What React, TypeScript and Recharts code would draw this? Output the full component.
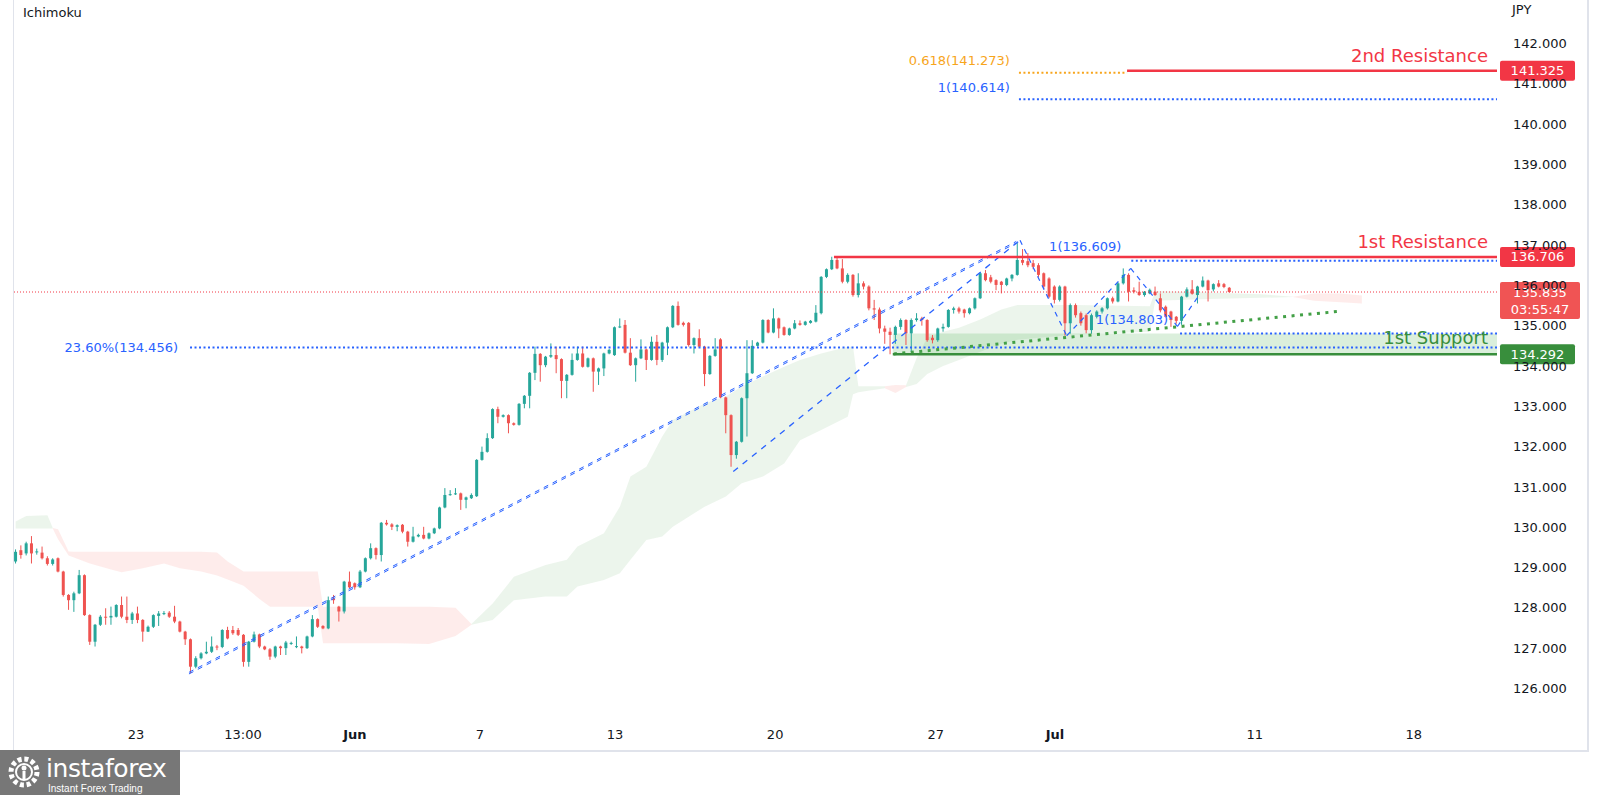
import React from "react";
import { ComposedChart, Bar, Area, XAxis, YAxis, ReferenceLine, ReferenceArea } from "recharts";

const UP = "#26a69a";
const DOWN = "#ef5350";
const RED = "#f23645";
const BLUE = "#2962ff";
const GREEN = "#388e3c";
const ORANGE = "#f7a51c";
const FONT = "'DejaVu Sans', sans-serif";

const SLOTS = 280; // candle slots incl. empty space on the right

// open, high, low, close
const ohlc: number[][] = [
  [129.15, 129.45, 129.10, 129.39], [129.43, 129.55, 129.22, 129.31], [129.35, 129.64, 129.30, 129.60], [129.60, 129.78, 129.10, 129.35],
  [129.38, 129.47, 129.32, 129.40], [129.37, 129.52, 129.20, 129.23], [129.23, 129.28, 129.05, 129.09], [129.09, 129.23, 129.05, 129.20],
  [129.23, 129.25, 128.88, 128.90], [128.90, 128.92, 128.28, 128.32], [128.32, 128.34, 127.95, 128.19], [128.19, 128.40, 127.90, 128.36],
  [128.36, 128.94, 128.34, 128.81], [128.81, 128.83, 127.80, 127.82], [127.82, 127.84, 127.08, 127.16], [127.16, 127.60, 127.04, 127.58],
  [127.58, 127.82, 127.55, 127.78], [127.78, 127.99, 127.58, 127.76], [127.76, 128.03, 127.58, 127.80], [127.78, 128.09, 127.76, 128.07],
  [128.07, 128.28, 127.74, 127.78], [127.78, 128.28, 127.62, 127.70], [127.70, 127.90, 127.60, 127.86], [127.86, 128.03, 127.62, 127.70],
  [127.70, 127.72, 127.16, 127.41], [127.41, 127.56, 127.40, 127.53], [127.53, 127.84, 127.50, 127.82], [127.80, 127.92, 127.55, 127.86],
  [127.86, 127.92, 127.82, 127.87], [127.88, 127.92, 127.75, 127.78], [127.78, 128.05, 127.62, 127.66], [127.66, 127.68, 127.39, 127.41],
  [127.41, 127.43, 127.08, 127.22], [127.22, 127.24, 126.38, 126.54], [126.54, 126.80, 126.50, 126.75], [126.75, 126.90, 126.72, 126.87],
  [126.87, 127.16, 126.85, 126.91], [126.91, 127.29, 126.88, 127.04], [127.04, 127.08, 126.95, 127.03], [127.03, 127.47, 127.00, 127.45],
  [127.45, 127.53, 127.22, 127.24], [127.45, 127.55, 127.33, 127.37], [127.45, 127.50, 127.30, 127.33], [127.33, 127.35, 126.54, 126.66],
  [126.66, 127.18, 126.54, 127.16], [127.16, 127.41, 127.14, 127.34], [127.34, 127.36, 127.00, 127.04], [127.04, 127.06, 126.95, 126.97],
  [126.97, 127.00, 126.71, 126.79], [126.79, 127.06, 126.75, 127.04], [127.04, 127.06, 126.83, 127.00], [127.00, 127.18, 126.83, 127.14],
  [127.12, 127.16, 127.08, 127.13], [127.03, 127.29, 127.00, 127.05], [127.04, 127.06, 126.87, 127.00], [127.00, 127.31, 126.98, 127.29],
  [127.29, 127.82, 127.27, 127.72], [127.72, 127.74, 127.50, 127.53], [127.55, 127.57, 127.47, 127.49], [127.49, 128.28, 127.47, 128.19],
  [128.23, 128.32, 128.10, 128.19], [128.03, 128.05, 127.66, 127.91], [127.91, 128.67, 127.86, 128.65], [128.65, 128.90, 128.49, 128.51],
  [128.61, 128.63, 128.45, 128.51], [128.51, 128.94, 128.49, 128.90], [128.90, 129.25, 128.88, 129.23], [129.23, 129.60, 129.20, 129.48],
  [129.48, 129.50, 129.20, 129.31], [129.31, 130.13, 129.15, 130.11], [130.11, 130.18, 130.04, 130.07], [130.07, 130.10, 129.93, 130.01],
  [130.01, 130.07, 129.90, 130.05], [130.06, 130.08, 129.85, 129.89], [129.89, 129.91, 129.52, 129.64], [129.64, 130.01, 129.62, 129.77],
  [129.77, 129.84, 129.75, 129.81], [129.81, 130.01, 129.70, 129.72], [129.72, 129.87, 129.70, 129.85], [129.85, 129.99, 129.83, 129.97],
  [129.97, 130.51, 129.95, 130.49], [130.49, 130.97, 130.47, 130.80], [130.80, 130.92, 130.78, 130.82], [130.82, 130.97, 130.80, 130.84],
  [130.84, 130.86, 130.43, 130.68], [130.68, 130.76, 130.47, 130.74], [130.72, 130.84, 130.70, 130.80], [130.77, 131.69, 130.75, 131.67],
  [131.67, 132.00, 131.65, 131.87], [131.87, 132.33, 131.85, 132.21], [132.21, 132.95, 132.19, 132.93], [132.93, 132.99, 132.58, 132.74],
  [132.74, 132.80, 132.72, 132.78], [132.78, 132.80, 132.33, 132.58], [132.58, 132.60, 132.52, 132.54], [132.54, 133.08, 132.52, 133.06],
  [133.06, 133.28, 132.95, 133.26], [133.26, 133.85, 132.95, 133.83], [133.83, 134.48, 133.65, 134.30], [134.30, 134.32, 133.61, 134.02],
  [134.02, 134.25, 133.97, 134.23], [134.23, 134.56, 134.20, 134.27], [134.27, 134.48, 133.82, 134.17], [134.17, 134.19, 133.20, 133.63],
  [133.63, 133.80, 133.20, 133.78], [133.78, 134.31, 133.76, 134.15], [134.15, 134.48, 134.13, 134.31], [134.31, 134.48, 133.96, 133.98],
  [133.98, 134.21, 133.96, 134.19], [134.19, 134.21, 133.36, 133.86], [133.86, 133.96, 133.53, 133.94], [133.94, 134.33, 133.75, 134.31],
  [134.31, 134.42, 134.29, 134.40], [134.27, 134.98, 134.25, 134.96], [134.96, 135.18, 134.94, 134.98], [135.02, 135.14, 134.31, 134.33],
  [134.33, 134.69, 134.00, 134.02], [134.02, 134.21, 133.61, 134.19], [134.19, 134.66, 134.17, 134.41], [134.41, 134.43, 133.90, 134.15],
  [134.15, 134.73, 134.13, 134.60], [134.60, 134.77, 134.02, 134.15], [134.15, 134.60, 134.10, 134.58], [134.58, 134.98, 134.27, 134.96],
  [134.96, 135.51, 134.94, 135.49], [135.49, 135.60, 135.00, 135.02], [135.07, 135.10, 134.98, 135.02], [135.07, 135.09, 134.48, 134.52],
  [134.52, 134.71, 134.31, 134.69], [134.69, 134.91, 134.46, 134.48], [134.48, 134.50, 133.50, 133.80], [133.80, 134.27, 133.78, 134.25],
  [134.25, 134.69, 134.23, 134.41], [134.66, 134.69, 133.20, 133.22], [133.22, 133.24, 132.33, 132.78], [132.78, 132.80, 131.50, 131.79],
  [131.79, 132.14, 131.70, 132.12], [132.12, 133.22, 132.10, 133.20], [133.20, 134.64, 132.25, 133.82], [133.82, 134.64, 133.80, 134.50],
  [134.50, 134.60, 134.48, 134.58], [134.58, 135.16, 134.56, 135.14], [135.14, 135.16, 134.81, 134.83], [134.83, 135.43, 134.81, 135.18],
  [135.18, 135.20, 134.69, 134.93], [134.96, 134.98, 134.75, 134.77], [134.77, 134.95, 134.75, 134.93], [134.93, 135.14, 134.91, 135.06],
  [135.06, 135.13, 135.00, 135.02], [135.02, 135.12, 135.00, 135.10], [135.07, 135.14, 135.05, 135.12], [135.10, 135.51, 135.08, 135.32],
  [135.31, 136.23, 135.28, 136.21], [136.21, 136.42, 136.18, 136.40], [136.40, 136.71, 136.38, 136.63], [136.63, 136.70, 136.40, 136.42],
  [136.42, 136.65, 136.05, 136.09], [136.09, 136.30, 136.05, 136.26], [136.26, 136.28, 135.72, 135.76], [135.76, 136.30, 135.70, 136.05],
  [136.05, 136.10, 135.90, 135.97], [135.97, 136.00, 135.38, 135.43], [135.43, 135.64, 135.14, 135.40], [135.40, 135.45, 134.81, 134.93],
  [134.93, 135.00, 134.55, 134.85], [134.85, 134.95, 134.29, 134.77], [134.77, 135.00, 134.55, 134.97], [134.97, 135.18, 134.90, 135.14],
  [135.14, 135.16, 134.52, 134.81], [134.81, 135.18, 134.35, 135.14], [135.14, 135.31, 135.10, 135.18], [135.18, 135.22, 135.00, 135.14],
  [135.14, 135.16, 134.60, 134.64], [134.70, 134.77, 134.56, 134.64], [134.64, 134.95, 134.60, 134.93], [134.93, 135.05, 134.85, 134.97],
  [134.97, 135.41, 134.95, 135.39], [135.39, 135.47, 135.30, 135.43], [135.43, 135.47, 135.30, 135.35], [135.40, 135.42, 135.20, 135.31],
  [135.31, 135.45, 135.28, 135.43], [135.43, 135.70, 135.40, 135.68], [135.68, 136.32, 135.66, 136.30], [136.30, 136.38, 136.10, 136.13],
  [136.20, 136.26, 136.05, 136.09], [136.13, 136.15, 135.88, 136.01], [136.09, 136.11, 135.80, 136.01], [136.01, 136.19, 135.98, 136.17],
  [136.17, 136.28, 136.10, 136.26], [136.26, 137.05, 136.24, 136.63], [136.63, 136.90, 136.50, 136.56], [136.60, 136.80, 136.45, 136.50],
  [136.55, 136.63, 136.40, 136.46], [136.50, 136.55, 136.20, 136.26], [136.30, 136.32, 135.90, 135.97], [136.17, 136.20, 135.68, 135.72],
  [135.97, 136.00, 135.55, 135.64], [135.64, 136.00, 135.60, 135.97], [135.97, 135.99, 134.75, 135.06], [135.06, 135.55, 134.80, 135.51],
  [135.51, 135.55, 135.20, 135.26], [135.31, 135.35, 135.00, 135.06], [135.26, 135.30, 134.81, 134.89], [134.89, 135.30, 134.80, 135.26],
  [135.22, 135.38, 135.18, 135.35], [135.35, 135.46, 135.30, 135.43], [135.43, 135.70, 135.40, 135.68], [135.68, 135.72, 135.55, 135.60],
  [135.60, 136.08, 135.58, 136.05], [136.05, 136.42, 136.02, 136.26], [136.26, 136.30, 135.60, 135.84], [135.88, 135.95, 135.80, 135.84],
  [135.84, 136.09, 135.74, 135.76], [135.76, 135.86, 135.72, 135.84], [135.80, 135.92, 135.78, 135.89], [135.84, 135.97, 135.74, 135.76],
  [135.68, 135.80, 135.33, 135.38], [135.47, 135.50, 135.20, 135.22], [135.35, 135.37, 134.97, 135.14], [135.22, 135.24, 135.05, 135.12],
  [135.12, 135.74, 135.02, 135.72], [135.72, 135.95, 135.70, 135.90], [135.90, 136.13, 135.77, 135.79], [135.76, 135.99, 135.55, 135.97],
  [135.97, 136.22, 135.95, 136.12], [136.12, 136.14, 135.60, 135.88], [135.90, 136.05, 135.85, 136.03], [136.05, 136.13, 135.95, 135.97],
  [136.03, 136.06, 135.93, 135.96], [135.94, 135.96, 135.82, 135.835],
];

// ichimoku cloud pieces: [slot, upper span, lower span]
const greenCloud1 = [[0, 130.14, 129.97], [2, 130.28, 129.97], [6, 130.30, 129.97], [7, 129.98, 129.97]];
const redCloud1 = [
  [7, 129.98, 129.97], [8, 129.95, 129.70], [10, 129.40, 129.30], [11, 129.39, 129.25], [14, 129.39, 129.10],
  [18, 129.39, 128.95], [20, 129.39, 128.88], [24, 129.39, 128.98], [28, 129.39, 129.10], [31, 129.39, 128.98],
  [35, 129.39, 128.90], [38, 129.37, 128.80], [40, 129.15, 128.70], [43, 128.90, 128.55], [46, 128.90, 128.22],
  [48, 128.90, 128.03], [57, 128.90, 128.03], [58, 128.03, 127.12], [72, 128.03, 127.12], [78, 128.03, 127.10],
  [83, 128.00, 127.30], [86, 127.60, 127.58],
];
const greenCloud2 = [
  [86, 127.60, 127.58], [90, 128.11, 127.70], [94, 128.77, 128.19], [100, 129.06, 128.28], [104, 129.19, 128.28],
  [106, 129.52, 128.53], [111, 129.85, 128.69], [114, 130.51, 128.86], [116, 131.26, 129.19], [119, 131.50, 129.68],
  [122, 132.25, 129.77], [124, 132.66, 130.01], [130, 133.07, 130.51], [134, 133.24, 130.76], [137, 133.49, 131.09],
  [141, 133.74, 131.26], [145, 133.98, 131.58], [148, 134.15, 132.16], [152, 134.31, 132.41], [157, 134.48, 132.74],
  [158, 134.48, 133.30], [159, 133.50, 133.35], [164, 133.50, 133.45],
];
const redCloud2 = [[164, 133.50, 133.45], [166, 133.53, 133.33], [168, 133.52, 133.48]];
const greenCloud3 = [
  [168, 133.52, 133.48], [170, 134.20, 133.55], [172, 134.70, 133.80], [175, 134.85, 134.00], [178, 134.95, 134.15],
  [182, 135.15, 134.35], [186, 135.40, 134.55], [189, 135.51, 134.65], [200, 135.51, 134.78], [214, 135.48, 134.85],
  [215, 135.86, 135.62], [225, 135.82, 135.66], [235, 135.78, 135.69], [241, 135.72, 135.71],
];
const redCloud3 = [[241, 135.72, 135.71], [245, 135.80, 135.62], [250, 135.80, 135.58], [254, 135.75, 135.55]];

const yTicks = [126, 127, 128, 129, 130, 131, 132, 133, 134, 135, 136, 137, 138, 139, 140, 141, 142];
const timeTicks = [22.7, 42.9, 64, 87.6, 113.1, 143.3, 173.6, 196.1, 233.8, 263.8];
const timeLabels = ["23", "13:00", "Jun", "7", "13", "20", "27", "Jul", "11", "18"];

// drawings (slot, price)
const trendA = [[32.7, 126.36], [188.8, 137.05]];
const trendB = [[135.4, 131.38], [189.5, 137.12]];
const abcd = [[189.5, 137.12], [198.3, 134.75], [210.4, 136.42], [219.2, 134.98], [223, 135.7]];
const supportTrend = [[165.7, 134.3], [249.3, 135.35]];

const clouds = [
  { key: "g1", pts: greenCloud1, fill: "#43a047" },
  { key: "r1", pts: redCloud1, fill: "#f44336" },
  { key: "g2", pts: greenCloud2, fill: "#43a047" },
  { key: "r2", pts: redCloud2, fill: "#f44336" },
  { key: "g3", pts: greenCloud3, fill: "#43a047" },
  { key: "r3", pts: redCloud3, fill: "#f44336" },
];

const rows: any[] = Array.from({ length: SLOTS }, (_, i) => {
  const r: any = { i };
  const k = ohlc[i];
  if (k) {
    r.o = k[0]; r.h = k[1]; r.l = k[2]; r.c = k[3];
    r.hl = [k[2], k[1]];
  }
  return r;
});
clouds.forEach((cl) => cl.pts.forEach(([i, top, bot]) => { rows[i][cl.key] = [bot, top]; }));

const Candle = (props: any) => {
  const { x, y, width, height, payload } = props;
  if (!payload || payload.o == null) return null;
  const { o, h, l, c } = payload;
  const color = c >= o ? UP : DOWN;
  const span = h - l || 1;
  const yOf = (v: number) => y + ((h - v) / span) * height;
  const top = yOf(Math.max(o, c));
  const bot = yOf(Math.min(o, c));
  const cx = x + width / 2;
  return (
    <g>
      <line x1={cx} x2={cx} y1={y} y2={y + height} stroke={color} strokeWidth={1} />
      <rect x={x} y={top} width={width} height={Math.max(bot - top, 1)} fill={color} />
    </g>
  );
};

const TimeTick = (p: any) => {
  const k = timeTicks.indexOf(p.payload.value);
  const label = timeLabels[k] ?? "";
  const month = label === "Jun" || label === "Jul";
  return (
    <text x={p.x} y={p.y} dy="0.71em" textAnchor="middle" fill="#131722" fontSize={13} fontFamily={FONT} fontWeight={month ? 700 : 400}>
      {label}
    </text>
  );
};

// text at the right end of a line, sitting above it
const endText = (text: string, color: string, rise: number) => (p: any) => {
  const vb = p.viewBox;
  if (!vb) return null;
  return (
    <text x={vb.x + vb.width - 9} y={vb.y - rise} textAnchor="end" fill={color} fontSize={18} fontFamily={FONT}>
      {text}
    </text>
  );
};

// text left of the line start
const startText = (text: string, color: string, gap: number, rise: number) => (p: any) => {
  const vb = p.viewBox;
  if (!vb) return null;
  return (
    <text x={vb.x - gap} y={vb.y - rise} dy="0.35em" textAnchor="end" fill={color} fontSize={13} fontFamily={FONT}>
      {text}
    </text>
  );
};

const priceTag = (lines: string[], fill: string, w: number) => (p: any) => {
  const vb = p.viewBox;
  if (!vb) return null;
  const x0 = vb.x + vb.width + 3;
  return (
    <g>
      <rect x={x0} y={vb.y - 10} width={w} height={20 + (lines.length - 1) * 17} rx={2} fill={fill} />
      {lines.map((t, k) => (
        <text key={k} x={x0 + w / 2} y={vb.y + k * 17} dy="0.35em" textAnchor="middle" fill="#fff" fontSize={13} fontFamily={FONT}>
          {t}
        </text>
      ))}
    </g>
  );
};

const seg = (a: number[], b: number[]) => [{ x: a[0], y: a[1] }, { x: b[0], y: b[1] }];
const END = SLOTS - 0.5;

export default function App() {
  return (
    <div style={{ position: "absolute", left: 0, top: 0, width: 1600, height: 795, background: "#fff", fontFamily: FONT, overflow: "hidden" }}>
      <ComposedChart width={1600} height={795} data={rows} margin={{ top: 0, right: 0, bottom: 0, left: 13 }} barCategoryGap="20%">
        <XAxis
          xAxisId="n"
          dataKey="i"
          type="number"
          domain={[-0.5, END]}
          allowDataOverflow
          ticks={timeTicks}
          interval={0}
          tick={<TimeTick />}
          axisLine={false}
          tickLine={false}
          tickSize={0}
          tickMargin={8}
          height={73}
        />
        <XAxis xAxisId="c" dataKey="i" type="category" hide height={0} />
        <YAxis
          orientation="right"
          domain={[125.168, 143.079]}
          allowDataOverflow
          ticks={yTicks}
          interval={0}
          width={103}
          axisLine={false}
          tickLine={false}
          tickSize={0}
          tickMargin={16}
          tick={{ fontSize: 13, fill: "#131722", fontFamily: FONT }}
          tickFormatter={(v: number) => v.toFixed(3)}
        />

        {clouds.map((cl) => (
          <Area
            key={cl.key}
            xAxisId="c"
            dataKey={cl.key}
            type="linear"
            connectNulls
            stroke="none"
            fill={cl.fill}
            fillOpacity={0.1}
            dot={false}
            activeDot={false}
            isAnimationActive={false}
          />
        ))}

        <ReferenceArea xAxisId="n" x1={165.5} x2={END} y1={134.292} y2={134.803} fill="#4caf50" fillOpacity={0.2} stroke="none" />

        <Bar xAxisId="c" dataKey="hl" shape={<Candle />} isAnimationActive={false} />

        {/* current price */}
        <ReferenceLine xAxisId="n" y={135.835} stroke={RED} strokeWidth={1} strokeDasharray="1 2" />

        {/* fib levels */}
        <ReferenceLine xAxisId="n" segment={seg([32.9, 134.456], [END, 134.456])} stroke={BLUE} strokeWidth={2} strokeDasharray="2 2.5"
          label={startText("23.60%(134.456)", BLUE, 12, 0)} />
        <ReferenceLine xAxisId="n" segment={seg([189.3, 141.273], [209.7, 141.273])} stroke={ORANGE} strokeWidth={2} strokeDasharray="2 2.5"
          label={startText("0.618(141.273)", ORANGE, 9, 12)} />
        <ReferenceLine xAxisId="n" segment={seg([189.3, 140.614], [END, 140.614])} stroke={BLUE} strokeWidth={2} strokeDasharray="2 2.5"
          label={startText("1(140.614)", BLUE, 9, 12)} />
        <ReferenceLine xAxisId="n" segment={seg([210.5, 136.609], [END, 136.609])} stroke={BLUE} strokeWidth={2} strokeDasharray="2 2.5"
          label={startText("1(136.609)", BLUE, 10, 14)} />
        <ReferenceLine xAxisId="n" segment={seg([219.7, 134.803], [END, 134.803])} stroke={BLUE} strokeWidth={2} strokeDasharray="2 2.5"
          label={startText("1(134.803)", BLUE, 12, 14)} />

        {/* trend lines */}
        <ReferenceLine xAxisId="n" segment={seg(trendA[0], trendA[1])} stroke={BLUE} strokeWidth={1} strokeDasharray="5 5" />
        <ReferenceLine xAxisId="n" segment={seg([trendA[0][0], trendA[0][1] + 0.04], [trendA[1][0], trendA[1][1] + 0.04])} stroke={BLUE} strokeWidth={1} strokeDasharray="5 5" />
        <ReferenceLine xAxisId="n" segment={seg(trendB[0], trendB[1])} stroke={BLUE} strokeWidth={1.3} strokeDasharray="6 6" />
        {abcd.slice(1).map((pt, k) => (
          <ReferenceLine key={k} xAxisId="n" segment={seg(abcd[k], pt)} stroke={BLUE} strokeWidth={1.2} strokeDasharray="5 5" />
        ))}
        <ReferenceLine xAxisId="n" segment={seg(supportTrend[0], supportTrend[1])} stroke="#43a047" strokeWidth={3} strokeDasharray="3 5.5" />

        {/* support / resistance */}
        <ReferenceLine xAxisId="n" segment={seg([209.7, 141.325], [END, 141.325])} stroke={RED} strokeWidth={2.5}
          label={endText("2nd Resistance", RED, 9)} />
        <ReferenceLine xAxisId="n" segment={seg([154.4, 136.706], [END, 136.706])} stroke={RED} strokeWidth={2.5}
          label={endText("1st Resistance", RED, 9)} />
        <ReferenceLine xAxisId="n" segment={seg([165.5, 134.292], [END, 134.292])} stroke={GREEN} strokeWidth={2.5}
          label={endText("1st Support", GREEN, 10)} />

        {/* axis tags */}
        <ReferenceLine xAxisId="n" y={141.325} stroke="none" label={priceTag(["141.325"], RED, 75)} />
        <ReferenceLine xAxisId="n" y={136.706} stroke="none" label={priceTag(["136.706"], RED, 75)} />
        <ReferenceLine xAxisId="n" y={135.835} stroke="none" label={priceTag(["135.835", "03:55:47"], "#f05454", 80)} />
        <ReferenceLine xAxisId="n" y={134.292} stroke="none" label={priceTag(["134.292"], GREEN, 75)} />
      </ComposedChart>

      <div style={{ position: "absolute", left: 23, top: 5, fontSize: 13, color: "#131722" }}>Ichimoku</div>
      <div style={{ position: "absolute", left: 1512, top: 2, fontSize: 13, color: "#131722" }}>JPY</div>

      <div style={{ position: "absolute", left: 13, top: 0, width: 1, height: 751, background: "#e0e3eb" }} />
      <div style={{ position: "absolute", left: 13, top: 750, width: 1575, height: 2, background: "#e0e3eb" }} />
      <div style={{ position: "absolute", left: 1587, top: 0, width: 2, height: 752, background: "#e0e3eb" }} />

      <div style={{ position: "absolute", left: 0, top: 750, width: 180, height: 45, background: "#777" }}>
        <svg width={180} height={45}>
          <circle cx={24} cy={22} r={13} fill="none" stroke="#fff" strokeWidth={5} strokeDasharray="4 2.8" />
          <circle cx={24} cy={22} r={8} fill="none" stroke="#fff" strokeWidth={2} />
          <circle cx={24} cy={18} r={2.5} fill="#fff" />
          <rect x={22.5} y={21} width={3} height={8} fill="#fff" />
          <text x={46} y={27} fill="#fff" fontSize={25} fontFamily={FONT} letterSpacing={-0.4}>instaforex</text>
          <text x={48} y={42} fill="#fff" fontSize={10} fontFamily="'Liberation Sans', sans-serif">Instant Forex Trading</text>
        </svg>
      </div>
    </div>
  );
}
